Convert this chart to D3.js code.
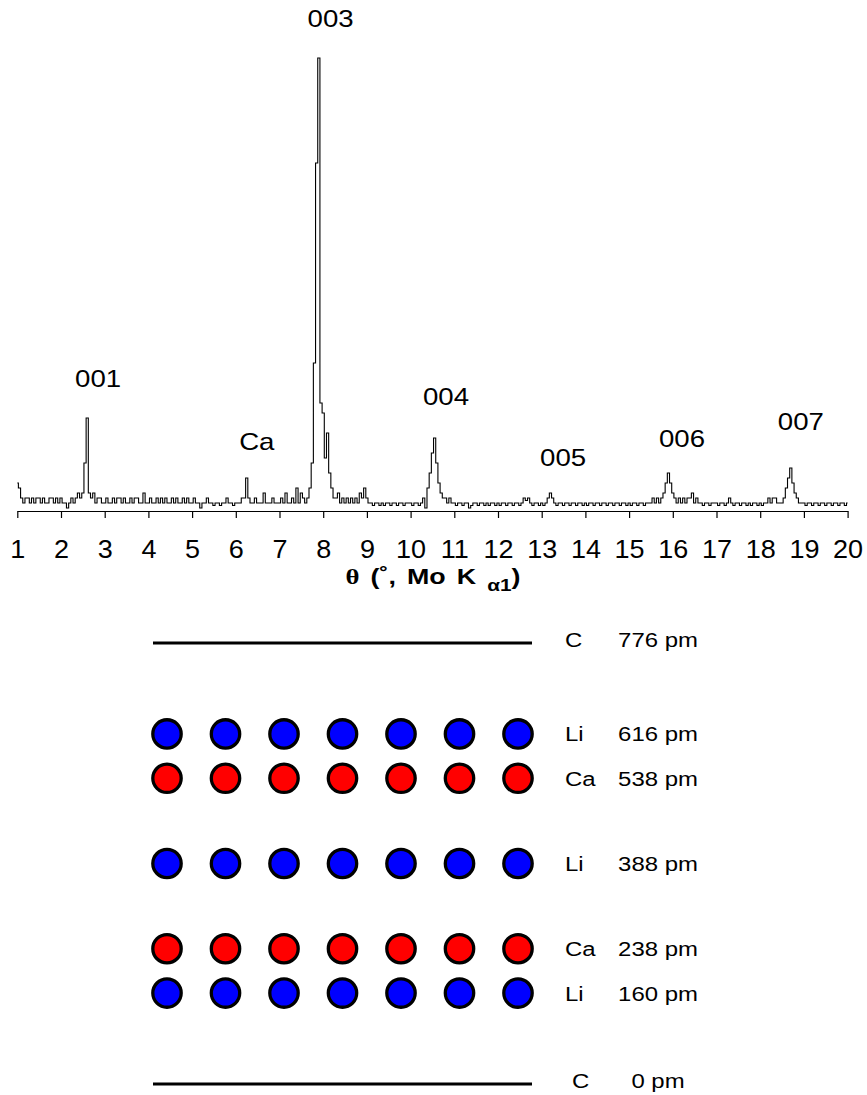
<!DOCTYPE html>
<html>
<head>
<meta charset="utf-8">
<script src="https://cdn.jsdelivr.net/npm/d3@7"></script>
<style>
    body { margin: 0; background: #fff; }
    text { font-family: "Liberation Sans", Arial, sans-serif; fill: #000; }
</style>
</head>
<body>
<div id="chart"></div>
<script>
// diffraction pattern, counts sampled every 0.05 deg from 1.00 to 20.00
const thetaStart = 1;
const thetaStep = 0.05;
const counts = [
    6, 5, 3, 2, 3, 3, 2, 3, 2, 3, 3, 2, 3, 2, 2, 3, 3, 2, 3, 2,          // 1
    3, 2, 2, 1, 2, 3, 2, 3, 4, 3, 4, 10, 19, 4, 3, 4, 2, 3, 3, 2,        // 2
    2, 3, 2, 2, 3, 2, 3, 3, 2, 3, 2, 2, 3, 2, 3, 3, 2, 2, 4, 2,          // 3
    2, 3, 2, 2, 3, 2, 3, 2, 3, 2, 2, 3, 2, 3, 2, 2, 3, 2, 3, 2,          // 4
    2, 3, 2, 2, 1, 2, 2, 3, 2, 2, 1.5, 2, 2, 1.5, 2, 2, 3, 2, 2, 1.5,    // 5
    2, 2, 2, 3, 3, 7, 3, 2, 2, 3, 2, 2, 2, 4, 2, 2, 2, 3, 2, 2,          // 6
    2, 3, 2, 4, 2, 2, 3, 2, 5, 2, 4, 3, 2, 3, 5, 10, 30, 70, 91, 22,     // 7
    20, 11, 16, 8, 5, 3, 3, 4, 2, 3, 2, 3, 2, 3, 2, 3, 2, 4, 3, 5,       // 8
    3, 2, 2, 1.5, 2, 2, 1.5, 2, 1.5, 2, 2, 1.5, 2, 2, 1.5, 2, 2, 1.5, 2, 2, // 9
    2, 1.5, 2, 2, 1.5, 2, 3, 1, 5, 8, 12, 15, 10, 6, 4, 3, 3, 2, 3, 2,   // 10
    2, 1.5, 2, 2, 1.5, 2, 2, 1, 1.5, 2, 2, 1.5, 2, 2, 1.5, 2, 1.5, 2, 2, 1.5, // 11
    2, 1.5, 2, 2, 1.5, 2, 2, 1.5, 2, 2, 1.5, 2, 3, 2.5, 3, 2, 1.5, 2, 2, 1.5, // 12
    2, 1.5, 2, 3, 4, 3, 2, 1.5, 2, 2, 1.5, 2, 2, 1.5, 2, 2, 1.5, 2, 2, 1.5,   // 13
    2, 1.5, 2, 2, 1.5, 2, 2, 1.5, 2, 2, 1.5, 2, 2, 1.5, 2, 2, 1.5, 2, 2, 1.5, // 14
    2, 1.5, 2, 2, 1.5, 2, 2, 1.5, 2, 2, 2, 3, 2, 3, 2, 3, 4, 6, 8, 6,    // 15
    4, 3, 2, 3, 2, 3, 2, 3, 3, 4, 2, 3, 2, 2, 1.5, 2, 2, 1.5, 2, 2,      // 16
    2, 1.5, 2, 2, 1.5, 2, 3, 2, 1.5, 2, 2, 1.5, 2, 2, 1.5, 2, 1.5, 2, 2, 1.5, // 17
    2, 1.5, 2, 2, 3, 2, 3, 3, 2, 2, 2, 3, 5, 7, 9, 6, 4, 3, 2, 2,        // 18
    2, 1.5, 2, 2, 1.5, 2, 2, 1.5, 2, 2, 1.5, 2, 2, 1.5, 2, 2, 1.5, 2, 2, 1.5, // 19
    2                                                                      // 20
];

// axis ticks
const tickValues = [1, 2, 3, 4, 5, 6, 7, 8, 9, 10, 11, 12, 13, 14, 15, 16, 17, 18, 19, 20];

// peak annotations (label, theta of label centre, height in counts)
const peakLabels = ["001", "Ca", "003", "004", "005", "006", "007"];
const peakTheta = [2.85, 6.48, 8.17, 10.81, 13.49, 16.21, 18.93];
const peakHeight = [25.2, 12.6, 97.2, 21.6, 9.4, 13.2, 16.6];

// layer model below the pattern
const layerAtoms = ["C", "Li", "Ca", "Li", "Ca", "Li", "C"];
const layerHeights = [776, 616, 538, 388, 238, 160, 0];
const siteIndex = [0, 1, 2, 3, 4, 5, 6];
const atomColors = { Li: "#0000ff", Ca: "#ff0000" };

const width = 867;
const height = 1095;

const svg = d3.select("#chart")
    .append("svg")
    .attr("width", width)
    .attr("height", height);

// scales for the pattern
const x = d3.scaleLinear().domain([1, 20]).range([17.3, 847.6]);
const y = d3.scaleLinear().domain([0, 91]).range([513, 58]);

const pattern = counts.map((c, i) => ({ theta: thetaStart + i * thetaStep, count: c }));

const line = d3.line()
    .x(d => x(d.theta))
    .y(d => y(d.count))
    .curve(d3.curveStep);

svg.append("path")
    .datum(pattern)
    .attr("fill", "none")
    .attr("stroke", "#000")
    .attr("stroke-width", 1.1)
    .attr("d", line);

// x axis
const xAxis = svg.append("g")
    .attr("transform", "translate(0,511)")
    .call(d3.axisBottom(x)
        .tickValues(tickValues)
        .tickSize(7)
        .tickSizeOuter(0)
        .tickPadding(22)
        .tickFormat(d3.format("d")));

xAxis.select(".domain").attr("stroke", "#000").attr("stroke-width", 1.2);
xAxis.selectAll(".tick line").attr("stroke", "#000").attr("stroke-width", 1.2);
xAxis.selectAll(".tick text")
    .attr("font-family", "Liberation Sans, Arial, sans-serif")
    .attr("font-size", "25px")
    .attr("transform", "scale(1.08,1)")
    .attr("fill", "#000");

// axis title (the original font is drawn a bit wide)
const title = svg.append("g")
    .attr("transform", "translate(433,584) scale(1.22,1)")
    .append("text")
    .attr("text-anchor", "middle")
    .attr("font-size", "22px")
    .attr("font-weight", "bold")
    .attr("word-spacing", "3px");
title.append("tspan").style("font-family", "Liberation Serif, serif").text("θ");
title.append("tspan").text(" (˚, Mo K ");
title.append("tspan").attr("dy", 7).attr("font-size", "17px").text("α1");
title.append("tspan").attr("dy", -7).text(")");

// peak labels
svg.selectAll(".peak-label")
    .data(peakLabels)
    .enter()
    .append("g")
    .attr("class", "peak-label")
    .attr("transform", (d, i) => `translate(${x(peakTheta[i])},${y(peakHeight[i])}) scale(1.15,1)`)
    .append("text")
    .attr("text-anchor", "middle")
    .attr("font-size", "24px")
    .text(d => d);

// layer model
const ly = d3.scaleLinear().domain([0, 776]).range([1084, 643]);
const sx = d3.scaleLinear().domain([0, 6]).range([167, 518]);

const layers = layerAtoms.map((a, i) => ({ atom: a, pm: layerHeights[i] }));

const layerG = svg.selectAll(".layer")
    .data(layers)
    .enter()
    .append("g")
    .attr("class", "layer")
    .attr("transform", d => `translate(0,${ly(d.pm)})`);

// carbon sheets as lines
layerG.filter(d => d.atom === "C")
    .append("line")
    .attr("x1", sx(0) - 14)
    .attr("x2", sx(6) + 14)
    .attr("stroke", "#000")
    .attr("stroke-width", 3);

// intercalated atoms as circles
layerG.filter(d => d.atom !== "C")
    .selectAll("circle")
    .data(d => siteIndex.map(s => ({ site: s, atom: d.atom })))
    .enter()
    .append("circle")
    .attr("cx", d => sx(d.site))
    .attr("cy", 0)
    .attr("r", 14.2)
    .attr("fill", d => atomColors[d.atom])
    .attr("stroke", "#000")
    .attr("stroke-width", 3.3);

// element name and height
layerG.append("g")
    .attr("transform", d => `translate(${d.atom === "C" && d.pm === 0 ? 572 : 565},${d.atom === "C" ? 4 : 7.5}) scale(1.14,1)`)
    .append("text")
    .attr("font-size", "21px")
    .text(d => d.atom);

layerG.append("g")
    .attr("transform", d => `translate(658,${d.atom === "C" ? 4 : 7.5}) scale(1.14,1)`)
    .append("text")
    .attr("text-anchor", "middle")
    .attr("font-size", "21px")
    .text(d => d.pm + " pm");
</script>
</body>
</html>
